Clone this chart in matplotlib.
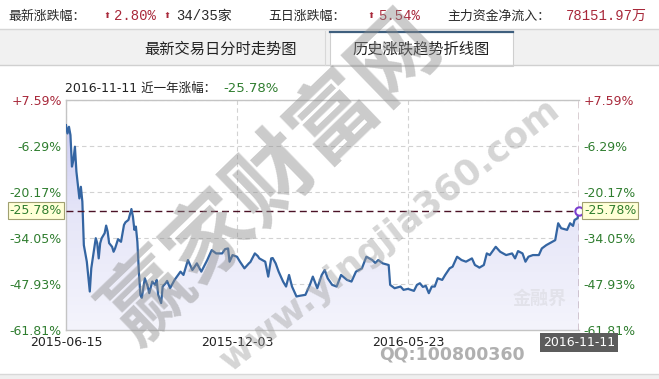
import matplotlib
matplotlib.use('Agg')
import matplotlib.pyplot as plt
import numpy as np
from matplotlib.patches import Rectangle, PathPatch
from matplotlib.colors import LinearSegmentedColormap
import matplotlib.transforms as mtrans

plt.rcParams['font.family'] = ['DejaVu Sans', 'Noto Sans CJK SC']

W, H = 659, 379

# trading-day index (0 = 2015-06-15 ... 345 = 2016-11-11) and cumulative change, %
day = [0, 1, 2, 3, 4, 5, 6, 7, 9, 10,
       11, 12, 14, 16, 17, 20, 21, 22, 23, 24,
       26, 27, 28, 29, 31, 32, 33, 35, 37, 39,
       40, 42, 44, 45, 46, 47, 48, 49, 50, 51,
       53, 55, 56, 58, 60, 61, 62, 64, 65, 67,
       68, 70, 73, 77, 79, 82, 85, 88, 91, 95,
       98, 101, 105, 107, 109, 110, 112, 115, 117, 120,
       123, 124, 127, 129, 130, 134, 136, 138, 139, 141,
       143, 146, 148, 150, 152, 155, 157, 161, 164, 166,
       169, 172, 174, 176, 179, 182, 185, 189, 192, 195,
       199, 202, 206, 208, 210, 213, 217, 218, 221, 225,
       227, 230, 234, 236, 238, 240, 242, 244, 246, 248,
       250, 253, 255, 258, 260, 263, 266, 269, 273, 275,
       277, 278, 281, 283, 285, 289, 292, 296, 300, 302,
       304, 307, 309, 311, 314, 318, 320, 323, 327, 329,
       331, 333, 337, 339, 341, 342, 344, 345]
pct = [0.0, -2.5, -0.5, -3.0, -12.5, -10.5, -6.5, -14.0, -22.1, -18.6,
       -23.1, -36.2, -41.2, -50.2, -43.2, -34.1, -35.6, -40.2, -35.6, -34.1,
       -32.6, -30.3, -32.1, -35.6, -36.7, -38.2, -37.2, -34.4, -35.2, -30.1,
       -29.3, -28.6, -25.3, -27.6, -31.6, -30.6, -35.2, -44.2, -51.2, -52.1,
       -46.2, -48.7, -50.7, -47.2, -48.2, -46.7, -51.2, -53.7, -48.7, -47.7,
       -47.0, -49.2, -46.7, -44.2, -45.2, -40.7, -43.7, -41.7, -44.2, -40.7,
       -37.7, -38.7, -38.7, -37.4, -37.2, -41.2, -39.2, -39.7, -41.2, -43.2,
       -41.7, -41.3, -38.7, -39.5, -40.2, -41.2, -45.7, -40.2, -40.1, -41.7,
       -44.2, -47.2, -48.7, -45.2, -48.7, -51.7, -51.5, -51.2, -48.2, -45.7,
       -49.2, -45.2, -43.7, -46.2, -48.2, -48.7, -45.2, -46.7, -47.2, -44.2,
       -43.2, -39.7, -40.7, -41.6, -40.7, -41.7, -42.2, -48.2, -49.2, -48.7,
       -49.7, -49.4, -50.0, -48.2, -47.7, -48.8, -48.5, -50.7, -48.7, -48.7,
       -46.2, -46.7, -45.2, -43.2, -42.7, -39.7, -40.7, -41.2, -40.2, -42.2,
       -42.7, -43.0, -42.2, -38.7, -39.2, -36.7, -38.2, -39.2, -38.7, -40.2,
       -38.0, -38.7, -41.2, -39.7, -39.2, -39.2, -37.2, -36.2, -35.2, -34.7,
       -29.6, -31.1, -31.6, -29.6, -30.4, -28.6, -28.1, -25.78]

yticks = [7.59, -6.29, -20.17, -34.05, -47.93, -61.81]
ytick_labels = ['+7.59%', '-6.29%', '-20.17%', '-34.05%', '-47.93%', '-61.81%']
xticks = [0, 115, 230, 345]
xtick_labels = ['2015-06-15', '2015-12-03', '2016-05-23', '2016-11-11']

RED = '#a8283a'
GREEN = '#2f7d2f'
DARK = '#2a2a2a'
CJK = ['Noto Sans CJK SC', 'DejaVu Sans']
MONO = ['Liberation Mono', 'Noto Sans CJK SC']


def fx(x):
    return x / W


def fy(y):
    return 1 - y / H


def box(x0, y0, x1, y1, **kw):
    r = Rectangle((fx(x0), fy(y1)), (x1 - x0) / W, (y1 - y0) / H,
                  transform=fig.transFigure, **kw)
    fig.add_artist(r)


fig = plt.figure(figsize=(W / 100, H / 100), dpi=100)

# header line
header = [
    (8, '最新涨跌幅：', DARK, CJK, 9.3),
    (104, '⬆', RED, ['DejaVu Sans'], 6),
    (114, '2.80%', RED, MONO, 10),
    (164, '⬆', RED, ['DejaVu Sans'], 6),
    (176, '34/35家', DARK, MONO, 10),
    (268, '五日涨跌幅：', DARK, CJK, 9.3),
    (368, '⬆', RED, ['DejaVu Sans'], 6),
    (378, '5.54%', RED, MONO, 10),
    (447, '主力资金净流入：', DARK, CJK, 9.3),
    (566, '78151.97万', RED, MONO, 10),
]
for x, s, c, fam, fs in header:
    fig.text(fx(x), fy(16), s, color=c, family=fam, fontsize=fs, ha='left', va='center')

# tab row
box(0, 29, W, 65, facecolor='#f1f1f1', edgecolor='none')
fig.add_artist(plt.Line2D([0, 1], [fy(29), fy(29)], color='#d6d6d6', lw=1, transform=fig.transFigure))
fig.add_artist(plt.Line2D([0, 1], [fy(65), fy(65)], color='#d0d0d0', lw=1, transform=fig.transFigure))
box(330, 31, 513, 65.5, facecolor='white', edgecolor='#cfcfcf', lw=0.8)
fig.add_artist(plt.Line2D([fx(330), fx(513)], [fy(31.5), fy(31.5)], color='#3f5f7e', lw=1.6,
                          transform=fig.transFigure))
fig.add_artist(plt.Line2D([fx(325), fx(325)], [fy(31), fy(65)], color='#d8d8d8', lw=0.8,
                          transform=fig.transFigure))
fig.text(fx(221), fy(49), '最新交易日分时走势图', family=CJK, fontsize=11, color='#222',
         ha='center', va='center')
fig.text(fx(421), fy(49), '历史涨跌趋势折线图', family=CJK, fontsize=11, color='#222',
         ha='center', va='center')

# subtitle
fig.text(fx(65), fy(88), '2016-11-11 近一年涨幅：', fontsize=9, color='#222',
         ha='left', va='center')
fig.text(fx(223), fy(88), f'{pct[-1]:.2f}%', fontsize=9.5, color=GREEN,
         ha='left', va='center')

# chart
ax = fig.add_axes([fx(66), fy(330), 513 / W, 230 / H])
ax.set_xlim(xticks[0], xticks[-1])
ax.set_ylim(yticks[-1], yticks[0])

poly = ax.fill_between(day, pct, yticks[-1], color='none', lw=0)
clip = PathPatch(poly.get_paths()[0], transform=ax.transData, facecolor='none', edgecolor='none')
ax.add_patch(clip)
cmap = LinearSegmentedColormap.from_list('fade', ['#c6c6f2', '#e6e6f8', '#f4f4fc'])
grad = np.linspace(0, 1, 256).reshape(-1, 1)
im = ax.imshow(grad, extent=[xticks[0], xticks[-1], yticks[-1], yticks[0]], aspect='auto',
               cmap=cmap, origin='upper', zorder=1)
im.set_clip_path(clip)

ax.plot(day, pct, color='#3465a2', lw=1.6, zorder=3, solid_joinstyle='round')

ax.set_yticks(yticks)
ax.set_yticklabels(ytick_labels)
ax.set_xticks(xticks)
ax.set_xticklabels(xtick_labels[:-1] + [''])
ax.grid(True, color='#d2d2d2', ls=(0, (4, 3)), lw=0.8)
ax.set_axisbelow(True)
ax.tick_params(axis='y', length=0, labelleft=True, labelright=True, pad=3, labelsize=9)
ax.tick_params(axis='x', length=0, pad=4.5, labelsize=9, labelcolor='#222')
for t, lab in zip(ax.yaxis.get_major_ticks(), ytick_labels):
    col = RED if lab.startswith('+') else GREEN
    t.label1.set_color(col)
    t.label2.set_color(col)

for side in ['left', 'top', 'bottom']:
    ax.spines[side].set_color('#c4c4c4')
    ax.spines[side].set_linewidth(1)
ax.spines['right'].set_visible(False)

ax.axhline(pct[-1], color='#4b1226', ls=(0, (5, 3)), lw=1, zorder=4)
ax.axvline(day[-1], color='#4b1226', ls=(0, (5, 3)), lw=1, zorder=4)
ax.plot(day[-1], pct[-1], 'o', mfc='white', mec='#7b3fd0', ms=6, mew=1.5, zorder=6, clip_on=False)

blend = mtrans.blended_transform_factory(ax.transAxes, ax.transData)
lab = f'{pct[-1]:.2f}%'
ax.text(-0.008, pct[-1], lab, transform=blend, ha='right', va='center', color=GREEN, fontsize=9,
        bbox=dict(boxstyle='square,pad=0.15', fc='#ffffd6', ec='#a0a070', lw=0.8), zorder=7)
ax.text(1.01, pct[-1], lab, transform=blend, ha='left', va='center', color=GREEN, fontsize=9,
        bbox=dict(boxstyle='square,pad=0.15', fc='#ffffd6', ec='#a0a070', lw=0.8), zorder=7)
blend_x = mtrans.blended_transform_factory(ax.transData, ax.transAxes)
ax.text(xticks[-1], -0.055, xtick_labels[-1], transform=blend_x, ha='center', va='center',
        color='white', fontsize=9,
        bbox=dict(boxstyle='square,pad=0.25', fc='#5c5c5c', ec='none'), zorder=7)

# watermarks
fig.text(fx(274), fy(178), '赢家财富网', rotation=44, fontsize=62, weight='bold',
         color='#8c8c8c', alpha=0.45, family=CJK, ha='center', va='center', zorder=10)
fig.text(fx(390), fy(235), 'www.yingjia360.com', rotation=38, fontsize=26, weight='bold',
         color='#9c9c9c', alpha=0.42, ha='center', va='center', zorder=10)
fig.text(fx(452), fy(355), 'QQ:100800360', fontsize=12.5, weight='bold', color='#b0b0b0',
         ha='center', va='center', zorder=10)
fig.text(fx(540), fy(298), '金融界', fontsize=13, weight='bold', color='#e2e2ea',
         family=CJK, ha='center', va='center', zorder=2)

# footer strip
box(0, 374, W, H, facecolor='#efefef', edgecolor='none')
fig.add_artist(plt.Line2D([0, 1], [fy(374), fy(374)], color='#d8d8d8', lw=1, transform=fig.transFigure))

fig.savefig('out.png', dpi=100)
